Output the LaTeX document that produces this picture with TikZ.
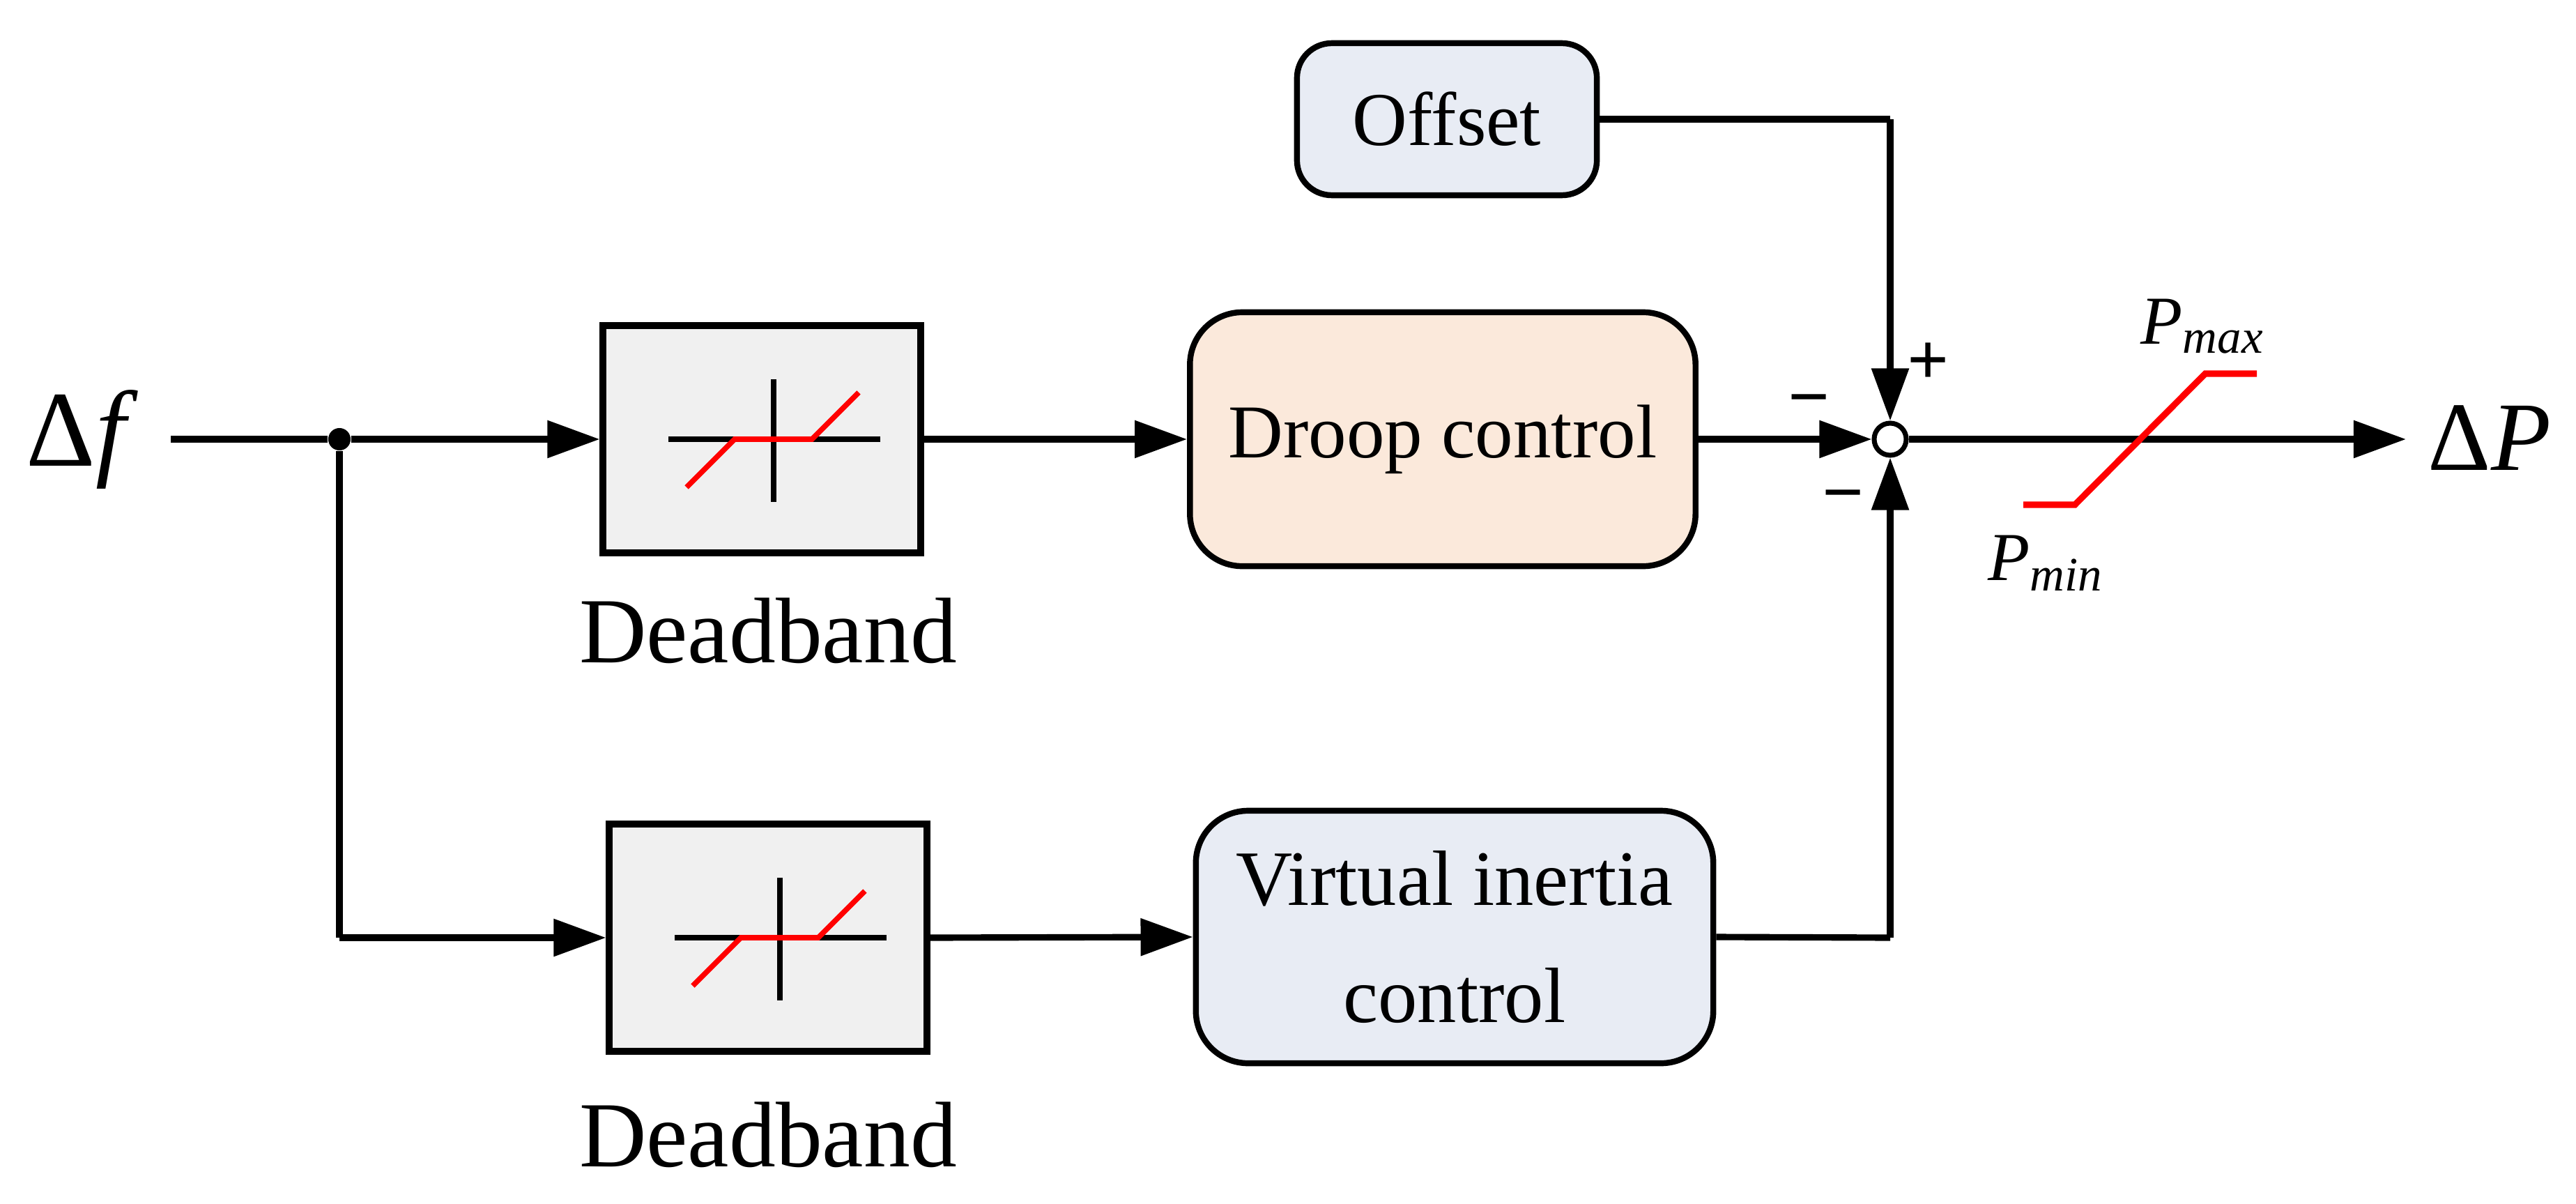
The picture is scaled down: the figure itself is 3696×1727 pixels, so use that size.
\documentclass[tikz,border=0pt]{standalone}
\usepackage{fontspec}
\setmainfont{Liberation Serif}
\usetikzlibrary{arrows.meta}
\begin{document}
\begin{tikzpicture}[x=0.01cm,y=-0.01cm,
  wire/.style={line width=2.6pt},
  arr/.style={wire,-{Triangle[length=0.75cm,width=0.52cm]}},
  dbox/.style={draw,line width=2.8pt,fill=gray!12,minimum width=4.55cm,minimum height=3.25cm,inner sep=0},
  rbox/.style={draw,line width=2.4pt,rounded corners=0.75cm,inner sep=0,align=center},
  red line/.style={red,line width=2.2pt},
  font=\fontsize{31}{36}\selectfont]
\useasboundingbox (0,0) rectangle (3696,1727);
% nodes
\node[font=\fontsize{44}{48}\selectfont] (df) at (118,630) {Δ\textit{f}};
\coordinate (start) at (245,630);
\node[circle,fill,inner sep=0,minimum size=0.32cm] (j) at (487,630) {};
\node[dbox] (db1) at (1093,630) {};
\node[dbox] (db2) at (1102,1345) {};
\node[font=\fontsize{38}{44}\selectfont] (l1) at (1102,905) {Deadband};
\node[font=\fontsize{38}{44}\selectfont] (l2) at (1102,1628) {Deadband};
\node[rbox,fill={rgb,255:red,251;green,233;blue,219},minimum width=7.25cm,minimum height=3.64cm] (droop) at (2070,630) {Droop control};
\node[rbox,fill={rgb,255:red,232;green,236;blue,244},minimum width=7.42cm,minimum height=3.62cm,font=\fontsize{32}{48}\selectfont] (vi) at (2087,1344) {Virtual inertia\\control};
\node[rbox,fill={rgb,255:red,232;green,236;blue,244},rounded corners=0.5cm,minimum width=4.3cm,minimum height=2.18cm] (off) at (2076,171) {Offset};
\node[circle,draw,line width=2pt,fill=white,minimum size=0.46cm,inner sep=0] (sum) at (2712,630) {};
\node[font=\fontsize{40}{44}\selectfont] (dP) at (3572,628) {Δ\textit{P}};
\coordinate (out) at (3452,630);
\coordinate (c1) at (2712,171);
\coordinate (c2) at (2712,1345);
\coordinate (c3) at (487,1345);
% connectors
\draw[wire] (start) -- (j);
\draw[arr] (j) -- (db1.west);
\draw[arr] (db1.east) -- (droop.west);
\draw[arr] (droop.east) -- (sum.west);
\draw[wire] (j) -- (c3);
\draw[arr] (c3) -- (db2.west);
\draw[arr] (db2.east) -- (vi.west);
\draw[wire] (vi.east) -- (c2);
\draw[arr] (c2) -- (sum.south);
\draw[wire] (off.east) -- (c1);
\draw[arr] (c1) -- (sum.north);
\draw[arr] (sum.east) -- (out);
% signs
\node[font=\fontsize{30}{34}\selectfont\bfseries] (plus) at (2767,522) {+};
\node[font=\fontsize{30}{34}\selectfont\bfseries] (m1) at (2596,585) {\textminus};
\node[font=\fontsize{30}{34}\selectfont\bfseries] (m2) at (2645,722) {\textminus};
% deadband symbols
\draw[line width=2pt] (959,630) -- (1263,630);
\draw[line width=2pt] (1110,544) -- (1110,720);
\draw[red line] (985,699) -- (1054,630) -- (1165,630) -- (1232,563);
\begin{scope}[shift={(9,715)}]
  \draw[line width=2pt] (959,630) -- (1263,630);
  \draw[line width=2pt] (1110,544) -- (1110,720);
  \draw[red line] (985,699) -- (1054,630) -- (1165,630) -- (1232,563);
\end{scope}
% saturation
\draw[red line,line width=2.6pt] (2903,724) -- (2977,724) -- (3164,536) -- (3238,536);
\node[font=\fontsize{28}{32}\selectfont] (pmax) at (3160,468) {\textit{P}\textsubscript{\textit{max}}};
\node[font=\fontsize{28}{32}\selectfont] (pmin) at (2935,808) {\textit{P}\textsubscript{\textit{min}}};
\end{tikzpicture}
\end{document}
